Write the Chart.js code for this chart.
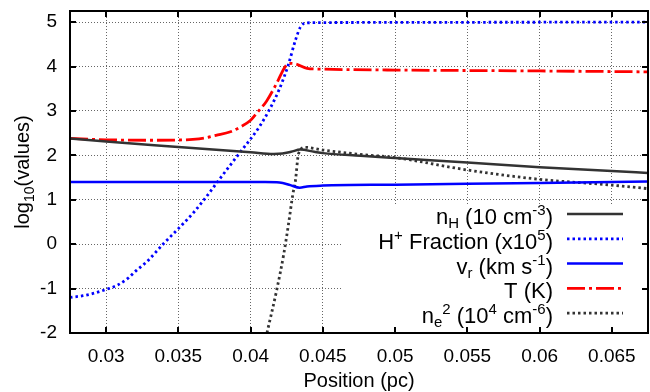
<!DOCTYPE html>
<html>
<head>
<meta charset="utf-8">
<script src="https://cdn.jsdelivr.net/npm/chart.js@4/dist/chart.umd.min.js"></script>
<style>
  html, body { margin: 0; padding: 0; background: #fff; }
  #wrap { width: 650px; height: 392px; }
</style>
</head>
<body>
<div id="wrap"><canvas id="c" width="650" height="392"></canvas></div>
<script>
// tick values
const xTicks = [0.03, 0.035, 0.04, 0.045, 0.05, 0.055, 0.06, 0.065];
const yTicks = [-2, -1, 0, 1, 2, 3, 4, 5];

// n_H (10 cm^-3)
const nhX = [0.0275, 0.030, 0.035, 0.040, 0.0416, 0.0422, 0.0428, 0.04344, 0.0444, 0.045, 0.0476, 0.050, 0.055, 0.060, 0.065, 0.0675];
const nhY = [2.38, 2.31, 2.19, 2.07, 2.03, 2.04, 2.08, 2.13, 2.08, 2.05, 1.99, 1.94, 1.84, 1.73, 1.65, 1.60];

// H+ fraction (x10^5)
const hpX = [0.0275, 0.0284, 0.0291, 0.0300, 0.0308, 0.0315, 0.0321, 0.0328, 0.0340, 0.0350, 0.0361, 0.0372, 0.0377, 0.0393, 0.0406, 0.0414, 0.0420, 0.0426, 0.0431, 0.04345, 0.0438, 0.0450, 0.0675];
const hpY = [-1.2, -1.16, -1.11, -1.02, -0.92, -0.77, -0.59, -0.40, 0.02, 0.35, 0.73, 1.18, 1.40, 2.08, 2.64, 3.09, 3.50, 4.03, 4.59, 4.89, 4.98, 4.99, 5.0];

// v_r (km s^-1)
const vrX = [0.0275, 0.035, 0.041, 0.0420, 0.04275, 0.0434, 0.0439, 0.045, 0.050, 0.055, 0.060, 0.0675];
const vrY = [1.40, 1.40, 1.40, 1.39, 1.33, 1.27, 1.30, 1.32, 1.34, 1.36, 1.38, 1.41];

// T (K)
const tX = [0.0275, 0.030, 0.033, 0.035, 0.036, 0.0368, 0.0376, 0.0386, 0.0393, 0.0400, 0.0405, 0.0411, 0.0418, 0.0424, 0.0428, 0.0432, 0.0439, 0.045, 0.050, 0.055, 0.060, 0.0675];
const tY = [2.38, 2.35, 2.34, 2.345, 2.36, 2.39, 2.45, 2.53, 2.64, 2.79, 2.98, 3.22, 3.62, 4.0, 4.07, 4.05, 3.96, 3.94, 3.92, 3.91, 3.90, 3.88];

// n_e^2 (10^4 cm^-6)
const neX = [0.04113, 0.0418, 0.0423, 0.04263, 0.04293, 0.04309, 0.04332, 0.04378, 0.045, 0.0476, 0.050, 0.055, 0.060, 0.065, 0.0675];
const neY = [-2.0, -1.04, -0.21, 0.47, 1.14, 1.40, 2.04, 2.18, 2.12, 2.02, 1.95, 1.67, 1.46, 1.33, 1.25];

const pts = (xs, ys) => xs.map((x, i) => ({ x: x, y: ys[i] }));

const FONT = '"Liberation Sans", Arial, sans-serif';

const series = [
    { label: [['n', 0], ['H', -1], [' (10 cm', 0], ['-3', 1], [')', 0]], data: pts(nhX, nhY), color: '#333333', dash: [], width: 2.5 },
    { label: [['H', 0], ['+', 1], [' Fraction (x10', 0], ['5', 1], [')', 0]], data: pts(hpX, hpY), color: '#0000ff', dash: [2.5, 3], width: 2.8 },
    { label: [['v', 0], ['r', -1], [' (km s', 0], ['-1', 1], [')', 0]], data: pts(vrX, vrY), color: '#0000ff', dash: [], width: 2.5 },
    { label: [['T (K)', 0]], data: pts(tX, tY), color: '#ff0000', dash: [18, 4, 3, 4], width: 2.8 },
    { label: [['n', 0], ['e', -1], ['2', 1], [' (10', 0], ['4', 1], [' cm', 0], ['-6', 1], [')', 0]], data: pts(neX, neY), color: '#333333', dash: [2.5, 3], width: 2.8 }
];

function richWidth(ctx, segs, big, small) {
    let w = 0;
    segs.forEach(s => {
        ctx.font = (s[1] === 0 ? big : small) + 'px ' + FONT;
        w += ctx.measureText(s[0]).width;
    });
    return w;
}

function drawRich(ctx, segs, x, y, big, small, up, down) {
    segs.forEach(s => {
        ctx.font = (s[1] === 0 ? big : small) + 'px ' + FONT;
        const dy = s[1] === 1 ? -up : (s[1] === -1 ? down : 0);
        ctx.fillText(s[0], x, y + dy);
        x += ctx.measureText(s[0]).width;
    });
}

const legendBox = { left: 343, top: 205 };

const framePlugin = {
    id: 'frame',
    beforeDatasetsDraw(chart) {
        const ctx = chart.ctx, a = chart.chartArea;
        ctx.save();
        ctx.fillStyle = '#fff';
        ctx.fillRect(legendBox.left, legendBox.top, a.right - legendBox.left, a.bottom - legendBox.top);
        ctx.restore();
    },
    afterDraw(chart) {
        const ctx = chart.ctx, a = chart.chartArea;
        const xs = chart.scales.x, ys = chart.scales.y;
        ctx.save();
        // legend
        ctx.fillStyle = '#000';
        ctx.textBaseline = 'alphabetic';
        series.forEach((s, i) => {
            const lineY = 214 + i * 24.8;
            const w = richWidth(ctx, s.label, 22, 15);
            drawRich(ctx, s.label, 553 - w, lineY + 10, 22, 15, 9, 4);
            ctx.beginPath();
            ctx.strokeStyle = s.color;
            ctx.lineWidth = s.width;
            ctx.setLineDash(s.dash);
            ctx.moveTo(567, lineY);
            ctx.lineTo(623, lineY);
            ctx.stroke();
        });
        ctx.setLineDash([]);
        // frame
        ctx.strokeStyle = '#000';
        ctx.lineWidth = 2;
        ctx.strokeRect(a.left, a.top, a.right - a.left, a.bottom - a.top);
        // inward ticks on all sides
        ctx.beginPath();
        xTicks.forEach(v => {
            const px = Math.round(xs.getPixelForValue(v));
            ctx.moveTo(px, a.bottom); ctx.lineTo(px, a.bottom - 6);
            ctx.moveTo(px, a.top); ctx.lineTo(px, a.top + 6);
        });
        yTicks.forEach(v => {
            const py = Math.round(ys.getPixelForValue(v));
            ctx.moveTo(a.left, py); ctx.lineTo(a.left + 6, py);
            ctx.moveTo(a.right, py); ctx.lineTo(a.right - 6, py);
        });
        ctx.stroke();
        // axis titles
        ctx.fillStyle = '#000';
        ctx.font = '20px ' + FONT;
        ctx.textAlign = 'center';
        ctx.textBaseline = 'middle';
        ctx.fillText('Position (pc)', (a.left + a.right) / 2, 381);
        ctx.translate(22, (a.top + a.bottom) / 2);
        ctx.rotate(-Math.PI / 2);
        ctx.textAlign = 'left';
        ctx.textBaseline = 'alphabetic';
        const ttl = [['log', 0], ['10', -1], ['(values)', 0]];
        const tw = richWidth(ctx, ttl, 20, 14);
        drawRich(ctx, ttl, -tw / 2, 7, 20, 14, 8, 5);
        ctx.restore();
    }
};

new Chart(document.getElementById('c'), {
    type: 'line',
    data: {
        datasets: series.map(s => ({
            data: s.data,
            borderColor: s.color,
            borderWidth: s.width,
            borderDash: s.dash,
            pointRadius: 0,
            fill: false,
            cubicInterpolationMode: 'monotone'
        }))
    },
    options: {
        responsive: false,
        animation: false,
        layout: { padding: { top: 11, right: 2, left: 0, bottom: 0 } },
        plugins: { legend: { display: false }, tooltip: { enabled: false } },
        scales: {
            x: {
                type: 'linear',
                min: 0.0275,
                max: 0.0675,
                afterBuildTicks: s => { s.ticks = xTicks.map(v => ({ value: v })); },
                afterFit: s => { s.height = 59; s.paddingLeft = 0; s.paddingRight = 0; },
                ticks: {
                    color: '#000',
                    font: { family: FONT, size: 19 },
                    padding: 12,
                    maxRotation: 0,
                    callback: v => String(+v.toFixed(4))
                },
                grid: { color: '#666', drawTicks: false, lineWidth: 1 },
                border: { display: false, dash: [1, 2] }
            },
            y: {
                min: -2,
                max: 5.25,
                afterBuildTicks: s => { s.ticks = yTicks.map(v => ({ value: v })); },
                afterFit: s => { s.width = 70; s.paddingTop = 0; s.paddingBottom = 0; },
                ticks: {
                    color: '#000',
                    font: { family: FONT, size: 19 },
                    padding: 13,
                    callback: v => String(v)
                },
                grid: { color: '#666', drawTicks: false, lineWidth: 1 },
                border: { display: false, dash: [1, 2] }
            }
        }
    },
    plugins: [framePlugin]
});
</script>
</body>
</html>
